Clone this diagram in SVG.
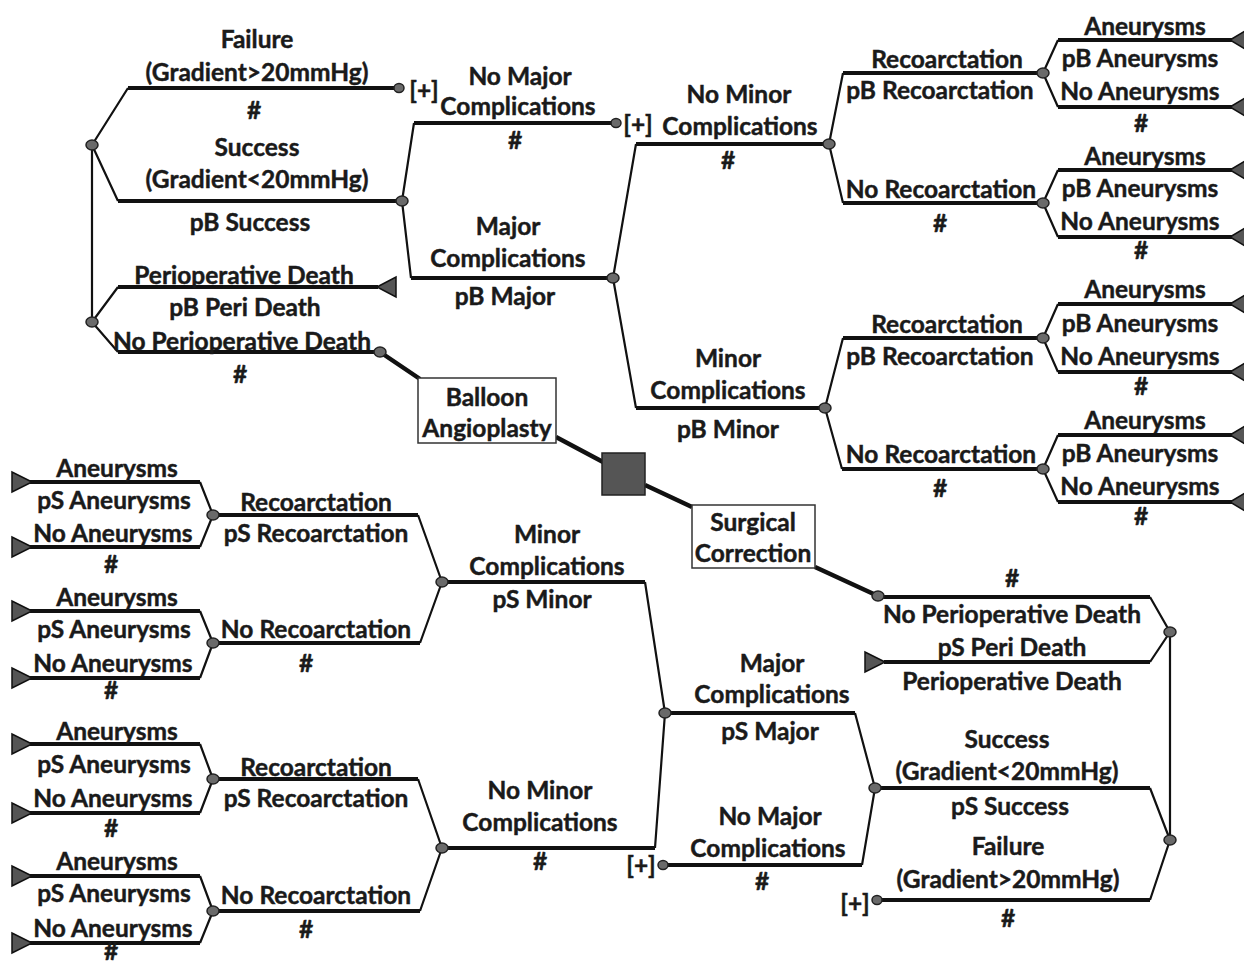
<svg xmlns="http://www.w3.org/2000/svg" width="1244" height="962" viewBox="0 0 1244 962">
<style>
text{font-family:Lato,"Liberation Sans",sans-serif;font-weight:bold;font-size:24.5px;fill:#1a1a1a;stroke:#1a1a1a;stroke-width:0.45;text-anchor:middle;dominant-baseline:central}
.h{fill:none;stroke:#111;stroke-width:4}
.d{fill:none;stroke:#111;stroke-width:2.2}
.t{fill:none;stroke:#111;stroke-width:4.5}
.c{fill:#6a6a6a;stroke:#222;stroke-width:1.5}
.tr{fill:#555;stroke:#111;stroke-width:1.5}
.box{fill:#fff;stroke:#333;stroke-width:1.5}
</style>
<rect width="1244" height="962" fill="#fff"/>
<g id="connectors">
<path class="d" d="M92,145 L128,88 M92,145 L118,201 M92,145 V322 M92,322 L118,287 M92,322 L118,352"/>
<path class="h" d="M128,88 H396 M118,201 H402 M118,287 H378 M118,352 H380"/>
<path class="t" d="M380,352 L420,379 M556,437 L603,462 M645,485 L692,507 M815,567 L878,596"/>
<path class="d" d="M402,201 L414,123 M402,201 L411,278 M613,278 L636,144 M613,278 L636,408 M829,144 L843,73 M829,144 L843,203 M825,408 L843,338 M825,408 L842,469"/>
<path class="h" d="M414,123 H613 M411,278 H613 M636,144 H829 M636,408 H825 M843,73 H1043 M843,203 H1043 M843,338 H1043 M842,469 H1043"/>
<path class="d" d="M1043,73 L1058,40 M1043,73 L1058,107 M1043,203 L1058,170 M1043,203 L1058,237 M1043,338 L1058,304 M1043,338 L1058,372 M1043,469 L1058,435 M1043,469 L1058,502"/>
<path class="h" d="M1058,40 H1232 M1058,107 H1232 M1058,170 H1232 M1058,237 H1232 M1058,304 H1232 M1058,372 H1232 M1058,435 H1232 M1058,502 H1232"/>
<path class="h" d="M878,597 H1150 M1150,662 H884 M1150,788 H875 M1150,900 H878"/>
<path class="d" d="M1150,597 L1170,632 L1150,662 M1170,632 V840 M1170,840 L1150,788 M1170,840 L1150,900"/>
<path class="d" d="M875,788 L855,713 M875,788 L862,865 M665,713 L645,582 M665,713 L655,848 M442,582 L418,515 M442,582 L420,643 M442,848 L418,779 M442,848 L420,911"/>
<path class="h" d="M855,713 H665 M862,865 H664 M645,582 H442 M655,848 H442 M418,515 H213 M420,643 H213 M418,779 H213 M420,911 H213"/>
<path class="d" d="M213,515 L200,482 M213,515 L200,547 M213,643 L200,611 M213,643 L200,678 M213,779 L200,744 M213,779 L200,813 M213,911 L200,876 M213,911 L200,943"/>
<path class="h" d="M200,482 H30 M200,547 H30 M200,611 H30 M200,678 H30 M200,744 H30 M200,813 H30 M200,876 H30 M200,943 H30"/>
</g>
<g id="decision"><rect x="602" y="453" width="43" height="42" fill="#555" stroke="#222" stroke-width="1.5"/></g>
<g id="balloon"><rect class="box" x="418" y="378" width="138" height="65"/><text x="487" y="396">Balloon</text><text x="487" y="427">Angioplasty</text></g>
<g id="surgical"><rect class="box" x="692" y="505" width="123" height="63"/><text x="753" y="521">Surgical</text><text x="753" y="552">Correction</text></g>
<g id="nodeA"><ellipse class="c" cx="92" cy="145" rx="6" ry="5"/></g>
<g id="nodeB"><ellipse class="c" cx="92" cy="322" rx="6" ry="5"/></g>
<g id="nodeC"><ellipse class="c" cx="402" cy="201" rx="6" ry="5"/></g>
<g id="nodeD"><ellipse class="c" cx="613" cy="278" rx="6" ry="5"/></g>
<g id="nodeE"><ellipse class="c" cx="829" cy="144" rx="6" ry="5"/></g>
<g id="nodeF"><ellipse class="c" cx="825" cy="408" rx="6" ry="5"/></g>
<g id="nodeG"><ellipse class="c" cx="1043" cy="73" rx="6" ry="5"/></g>
<g id="nodeH"><ellipse class="c" cx="1043" cy="203" rx="6" ry="5"/></g>
<g id="nodeI"><ellipse class="c" cx="1043" cy="338" rx="6" ry="5"/></g>
<g id="nodeJ"><ellipse class="c" cx="1043" cy="469" rx="6" ry="5"/></g>
<g id="endBFail"><ellipse class="c" cx="399" cy="88" rx="5" ry="4.5"/><text x="424" y="89">[+]</text></g>
<g id="endBNoMajor"><ellipse class="c" cx="616" cy="123" rx="5" ry="4.5"/><text x="638" y="123">[+]</text></g>
<g id="endBNoPeri"><ellipse class="c" cx="380" cy="352" rx="6" ry="5"/></g>
<g id="termBPeri"><polygon class="tr" points="377,287 396,277 396,297"/></g>
<g id="termsRight">
<polygon class="tr" points="1230,40 1245,31 1245,49"/><polygon class="tr" points="1230,107 1245,98 1245,116"/>
<polygon class="tr" points="1230,170 1245,161 1245,179"/><polygon class="tr" points="1230,237 1245,228 1245,246"/>
<polygon class="tr" points="1230,304 1245,295 1245,313"/><polygon class="tr" points="1230,372 1245,363 1245,381"/>
<polygon class="tr" points="1230,435 1245,426 1245,444"/><polygon class="tr" points="1230,502 1245,493 1245,511"/>
</g>
<g id="nodeK"><ellipse class="c" cx="878" cy="596" rx="6" ry="5"/></g>
<g id="nodeL"><ellipse class="c" cx="1170" cy="632" rx="6" ry="5"/></g>
<g id="nodeM"><ellipse class="c" cx="1170" cy="840" rx="6" ry="5"/></g>
<g id="nodeN"><ellipse class="c" cx="875" cy="788" rx="6" ry="5"/></g>
<g id="nodeO"><ellipse class="c" cx="665" cy="713" rx="6" ry="5"/></g>
<g id="nodeP"><ellipse class="c" cx="442" cy="582" rx="6" ry="5"/></g>
<g id="nodeQ"><ellipse class="c" cx="442" cy="848" rx="6" ry="5"/></g>
<g id="nodeR"><ellipse class="c" cx="213" cy="515" rx="6" ry="5"/></g>
<g id="nodeS"><ellipse class="c" cx="213" cy="643" rx="6" ry="5"/></g>
<g id="nodeT"><ellipse class="c" cx="213" cy="779" rx="6" ry="5"/></g>
<g id="nodeU"><ellipse class="c" cx="213" cy="911" rx="6" ry="5"/></g>
<g id="endSFail"><ellipse class="c" cx="877" cy="900" rx="5" ry="4.5"/><text x="855" y="902">[+]</text></g>
<g id="endSNoMajor"><ellipse class="c" cx="663" cy="865" rx="5" ry="4.5"/><text x="641" y="864">[+]</text></g>
<g id="termSPeri"><polygon class="tr" points="885,662 865,652 865,672"/></g>
<g id="termsLeft">
<polygon class="tr" points="32,482 12,472 12,492"/><polygon class="tr" points="32,547 12,537 12,557"/>
<polygon class="tr" points="32,611 12,601 12,621"/><polygon class="tr" points="32,678 12,668 12,688"/>
<polygon class="tr" points="32,744 12,734 12,754"/><polygon class="tr" points="32,813 12,803 12,823"/>
<polygon class="tr" points="32,876 12,866 12,886"/><polygon class="tr" points="32,943 12,933 12,953"/>
</g>
<g id="labels">
<text x="257" y="38">Failure</text><text x="257" y="71">(Gradient&gt;20mmHg)</text><text x="254" y="109">#</text>
<text x="257" y="146">Success</text><text x="257" y="178">(Gradient&lt;20mmHg)</text><text x="250" y="221">pB Success</text>
<text x="244" y="274">Perioperative Death</text><text x="245" y="306">pB Peri Death</text><text x="242" y="340">No Perioperative Death</text><text x="240" y="373">#</text>
<text x="520" y="75">No Major</text><text x="518" y="105">Complications</text><text x="515" y="139">#</text>
<text x="508" y="225">Major</text><text x="508" y="257">Complications</text><text x="505" y="295">pB Major</text>
<text x="739" y="93">No Minor</text><text x="740" y="125">Complications</text><text x="728" y="159">#</text>
<text x="728" y="357">Minor</text><text x="728" y="389">Complications</text><text x="728" y="428">pB Minor</text>
<text x="947" y="58">Recoarctation</text><text x="940" y="89">pB Recoarctation</text><text x="941" y="188">No Recoarctation</text><text x="940" y="222">#</text>
<text x="947" y="323">Recoarctation</text><text x="940" y="355">pB Recoarctation</text><text x="941" y="453">No Recoarctation</text><text x="940" y="487">#</text>
<text x="1145" y="25">Aneurysms</text><text x="1140" y="57">pB Aneurysms</text><text x="1140" y="90">No Aneurysms</text><text x="1141" y="122">#</text>
<text x="1145" y="155">Aneurysms</text><text x="1140" y="187">pB Aneurysms</text><text x="1140" y="220">No Aneurysms</text><text x="1141" y="249">#</text>
<text x="1145" y="288">Aneurysms</text><text x="1140" y="322">pB Aneurysms</text><text x="1140" y="355">No Aneurysms</text><text x="1141" y="385">#</text>
<text x="1145" y="419">Aneurysms</text><text x="1140" y="452">pB Aneurysms</text><text x="1140" y="485">No Aneurysms</text><text x="1141" y="515">#</text>
<text x="1012" y="577">#</text><text x="1012" y="613">No Perioperative Death</text><text x="1012" y="646">pS Peri Death</text><text x="1012" y="680">Perioperative Death</text>
<text x="1007" y="738">Success</text><text x="1007" y="770">(Gradient&lt;20mmHg)</text><text x="1010" y="805">pS Success</text>
<text x="1008" y="845">Failure</text><text x="1008" y="878">(Gradient&gt;20mmHg)</text><text x="1008" y="917">#</text>
<text x="772" y="662">Major</text><text x="772" y="693">Complications</text><text x="770" y="730">pS Major</text>
<text x="770" y="815">No Major</text><text x="768" y="847">Complications</text><text x="762" y="880">#</text>
<text x="547" y="533">Minor</text><text x="547" y="565">Complications</text><text x="542" y="598">pS Minor</text>
<text x="540" y="789">No Minor</text><text x="540" y="821">Complications</text><text x="540" y="860">#</text>
<text x="316" y="501">Recoarctation</text><text x="316" y="532">pS Recoarctation</text><text x="316" y="628">No Recoarctation</text><text x="306" y="662">#</text>
<text x="316" y="766">Recoarctation</text><text x="316" y="797">pS Recoarctation</text><text x="316" y="894">No Recoarctation</text><text x="306" y="928">#</text>
<text x="117" y="467">Aneurysms</text><text x="114" y="499">pS Aneurysms</text><text x="113" y="532">No Aneurysms</text><text x="111" y="563">#</text>
<text x="117" y="596">Aneurysms</text><text x="114" y="628">pS Aneurysms</text><text x="113" y="662">No Aneurysms</text><text x="111" y="689">#</text>
<text x="117" y="730">Aneurysms</text><text x="114" y="763">pS Aneurysms</text><text x="113" y="797">No Aneurysms</text><text x="111" y="827">#</text>
<text x="117" y="860">Aneurysms</text><text x="114" y="892">pS Aneurysms</text><text x="113" y="927">No Aneurysms</text><text x="111" y="950">#</text>
</g>
</svg>
